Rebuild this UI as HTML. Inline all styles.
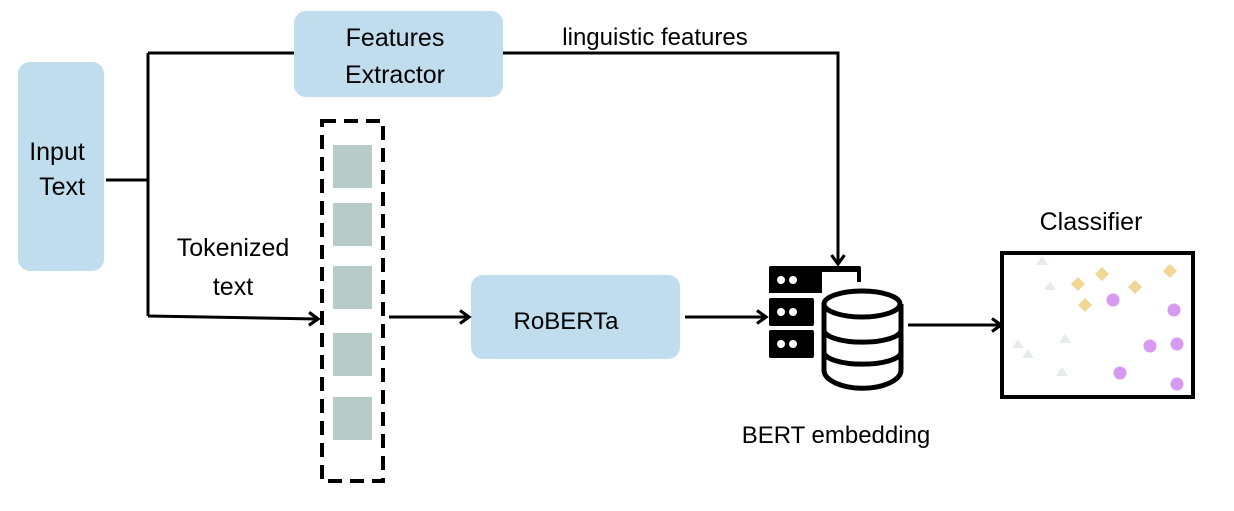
<!DOCTYPE html>
<html><head><meta charset="utf-8"><style>
html,body{margin:0;padding:0;background:#fff;}
text{font-family:"Comic Sans MS","Liberation Sans",sans-serif;fill:#000;}
</style></head><body>
<svg width="1234" height="506" viewBox="0 0 1234 506" xmlns="http://www.w3.org/2000/svg">
<defs><marker id="a" markerWidth="14" markerHeight="16" refX="11" refY="8" orient="auto" markerUnits="userSpaceOnUse"><path d="M2,1.5 L11,8 L2,14.5" fill="none" stroke="#000" stroke-width="3.2"/></marker></defs>
<rect x="18" y="62" width="86" height="209" rx="12" fill="#c0ddee"/>
<text x="57" y="160" font-size="25" text-anchor="middle">Input</text>
<text x="62" y="195" font-size="25" text-anchor="middle">Text</text>
<rect x="294" y="11" width="209" height="86" rx="12" fill="#c0ddee"/>
<text x="395" y="46" font-size="25" text-anchor="middle">Features</text>
<text x="395" y="83" font-size="25" text-anchor="middle">Extractor</text>
<rect x="471" y="275" width="209" height="84" rx="12" fill="#c0ddee"/>
<text x="566" y="329" font-size="24" text-anchor="middle">RoBERTa</text>
<g fill="none" stroke="#000" stroke-width="3">
<path d="M106,180 H148 M148,53 V316 M148,53 H294 M503,53 H838 V262"/>
<path d="M838,250 V264" marker-end="url(#a)"/>
<path d="M148,316 L318,319" marker-end="url(#a)"/>
<path d="M389,317 H469" marker-end="url(#a)"/>
<path d="M685,317 H766" marker-end="url(#a)"/>
<path d="M908,325 H1001" marker-end="url(#a)"/>
</g>
<text x="655" y="45" font-size="24" text-anchor="middle">linguistic features</text>
<text x="233" y="256" font-size="25" text-anchor="middle">Tokenized</text>
<text x="233" y="295" font-size="25" text-anchor="middle">text</text>
<rect x="322" y="121" width="61" height="360" fill="none" stroke="#000" stroke-width="4" stroke-dasharray="14,8"/>
<g fill="#b7cbc8">
<rect x="333" y="145" width="39" height="43"/><rect x="333" y="203" width="39" height="43"/>
<rect x="333" y="266" width="39" height="43"/><rect x="333" y="333" width="39" height="43"/>
<rect x="333" y="397" width="39" height="43"/>
</g>
<g fill="#000">
<path d="M771,266 H859 a2,2 0 0 1 2,2 V282 H857 V272 H822 V293 H769 V268 a2,2 0 0 1 2,-2Z"/>
<rect x="769" y="298" width="45" height="28" rx="2"/>
<rect x="769" y="330" width="45" height="28" rx="2"/>
</g>
<g fill="#fff">
<circle cx="781" cy="280" r="4"/><circle cx="793" cy="280" r="4"/>
<circle cx="781" cy="312" r="4"/><circle cx="793" cy="312" r="4"/>
<circle cx="781" cy="344" r="4"/><circle cx="793" cy="344" r="4"/>
</g>
<g stroke="#000" stroke-width="5" fill="#fff">
<path d="M824,304 V370 A38,18 0 0 0 901,370 V304"/>
<ellipse cx="862" cy="304" rx="38" ry="13"/>
<path d="M824,330 A38,12 0 0 0 901,330 M824,352 A38,12 0 0 0 901,352" fill="none"/>
</g>
<rect x="1002" y="253" width="191" height="144" fill="none" stroke="#000" stroke-width="4"/>
<text x="1091" y="230" font-size="25" text-anchor="middle">Classifier</text>
<text x="836" y="443" font-size="24" text-anchor="middle">BERT embedding</text>
<g fill="#e6ece9">
<path d="M1042,256 l6,9 h-12z"/><path d="M1050,281 l6,9 h-12z"/><path d="M1018,339 l6,9 h-12z"/>
<path d="M1028,349 l6,9 h-12z"/><path d="M1065,334 l6,9 h-12z"/><path d="M1062,367 l6,9 h-12z"/>
</g>
<g fill="#f2d694">
<path d="M1078,277 l7,7 -7,7 -7,-7z"/><path d="M1102,267 l7,7 -7,7 -7,-7z"/><path d="M1135,280 l7,7 -7,7 -7,-7z"/>
<path d="M1170,264 l7,7 -7,7 -7,-7z"/><path d="M1085,298 l7,7 -7,7 -7,-7z"/>
</g>
<g fill="#d89af0">
<circle cx="1113" cy="300" r="6.5"/><circle cx="1174" cy="310" r="6.5"/><circle cx="1150" cy="346" r="6.5"/>
<circle cx="1177" cy="344" r="6.5"/><circle cx="1120" cy="373" r="6.5"/><circle cx="1177" cy="384" r="6.5"/>
</g>
</svg>
</body></html>
